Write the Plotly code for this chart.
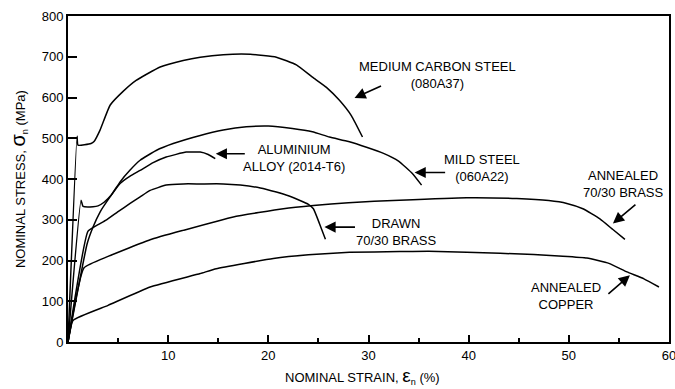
import plotly.graph_objects as go

# ---- data (strain %, stress MPa) ----
medium_x = [0, 0.9, 1.0, 2.3, 2.6, 3.2, 4.2, 5.5, 6.8, 9.2, 11.5, 13.2, 15.5, 18.2, 20.8, 22.8, 24.4, 25.8, 27.1, 28.3, 29.4]
medium_y = [0, 505, 483, 487, 492, 520, 581, 615, 642, 675, 691, 699, 705, 706, 699, 680, 650, 625, 593, 555, 503]

mild_x = [0, 1.3, 1.5, 2.5, 3.0, 3.6, 4.3, 5.2, 6.2, 7.2, 8.8, 10.5, 13.2, 15.5, 17.8, 20.0, 22.4, 24.4, 26.1, 28.0, 29.8, 31.5, 33.0, 34.4, 35.3]
mild_y = [0, 348, 333, 332, 334, 343, 360, 393, 422, 446, 470, 487, 507, 520, 528, 530, 524, 516, 503, 492, 478, 463, 444, 413, 385]

alu_x = [0, 1.9, 2.5, 3.2, 4.2, 5.2, 6.2, 7.2, 8.5, 9.8, 11.8, 13.2, 14.0, 14.7]
alu_y = [0, 240, 282, 319, 356, 389, 407, 421, 440, 454, 466, 466, 460, 450]

drawn_x = [0, 2.0, 3.0, 3.8, 5.0, 6.2, 7.2, 8.2, 9.8, 11.5, 13.2, 15.5, 17.2, 19.2, 20.8, 22.0, 23.1, 24.0, 24.5, 25.1, 25.7]
drawn_y = [0, 272, 288, 299, 320, 340, 356, 372, 385, 388, 388, 388, 385, 378, 368, 359, 348, 338, 327, 291, 252]

brass_x = [0, 1.6, 4.0, 8.2, 11.5, 16.5, 21.5, 24.5, 28.0, 33.1, 39.8, 44.8, 48.0, 49.8, 51.4, 53.1, 54.4, 55.6]
brass_y = [0, 182, 210, 251, 274, 307, 327, 335, 342, 348, 354, 352, 347, 340, 327, 302, 276, 252]

copper_x = [0, 0.5, 4.0, 8.2, 13.2, 14.8, 20.5, 24.0, 28.1, 33.1, 36.0, 39.8, 46.5, 49.0, 51.8, 54.0, 55.8, 57.5, 59.0]
copper_y = [0, 53, 90, 135, 168, 180, 205, 214, 220, 222, 223, 220, 215, 211, 206, 193, 172, 155, 135]

series = [
    ("Medium carbon steel (080A37)", medium_x, medium_y),
    ("Mild steel (060A22)", mild_x, mild_y),
    ("Aluminium alloy (2014-T6)", alu_x, alu_y),
    ("Drawn 70/30 brass", drawn_x, drawn_y),
    ("Annealed 70/30 brass", brass_x, brass_y),
    ("Annealed copper", copper_x, copper_y),
]

x_ticks = [10, 20, 30, 40, 50, 60]
y_ticks = [0, 100, 200, 300, 400, 500, 600, 700, 800]

# labels: (text, x, y)
labels = [
    ("MEDIUM CARBON STEEL<br>(080A37)", 36.9, 655),
    ("ALUMINIUM<br>ALLOY (2014-T6)", 22.55, 452),
    ("MILD STEEL<br>(060A22)", 41.3, 428),
    ("ANNEALED<br>70/30 BRASS", 55.5, 387),
    ("DRAWN<br>70/30 BRASS", 32.8, 270),
    ("ANNEALED<br>COPPER", 49.7, 114),
]
# arrows: (tail x, tail y, head x, head y)
arrows = [
    (31.4, 630, 28.6, 599),
    (17.8, 462, 14.75, 462),
    (37.8, 416, 34.6, 416),
    (56.8, 340, 54.4, 291),
    (28.8, 282, 25.6, 282),
    (53.8, 115, 56.1, 164),
]

FONT = "Liberation Sans, Arial, sans-serif"

fig = go.Figure()
for name, xs, ys in series:
    fig.add_trace(go.Scatter(x=xs, y=ys, mode="lines", name=name,
                             line=dict(color="black", width=1.5, shape="spline", smoothing=0.4),
                             showlegend=False))

annotations = []
for text, x, y in labels:
    annotations.append(dict(x=x, y=y, xref="x", yref="y", text=text, showarrow=False,
                            font=dict(family=FONT, size=13, color="black"), align="center"))
for tx, ty, hx, hy in arrows:
    annotations.append(dict(x=hx, y=hy, ax=tx, ay=ty, xref="x", yref="y", axref="x", ayref="y",
                            text="", showarrow=True, arrowhead=2, arrowsize=1.4, arrowwidth=1.6,
                            arrowcolor="black", standoff=0, startstandoff=0))
annotations.append(dict(x=-0.083, y=0.5, xref="paper", yref="paper", textangle=-90,
                        text="NOMINAL STRESS, <span style='font-size:20px'>σ</span><sub>n</sub> (MPa)",
                        showarrow=False, font=dict(family=FONT, size=13, color="black"),
                        xanchor="center", yanchor="middle"))
annotations.append(dict(x=0.49, y=-0.105, xref="paper", yref="paper",
                        text="NOMINAL STRAIN, <span style='font-size:19px'>ε</span><sub>n</sub> (%)",
                        showarrow=False, font=dict(family=FONT, size=13, color="black"),
                        xanchor="center", yanchor="middle"))

fig.update_layout(
    width=675, height=389,
    margin=dict(l=68, r=6, t=16, b=47, autoexpand=False),
    plot_bgcolor="white", paper_bgcolor="white",
    font=dict(family=FONT, size=13, color="black"),
    annotations=annotations,
    xaxis=dict(range=[0, 60], tickvals=x_ticks, ticktext=[str(v) for v in x_ticks],
               ticks="inside", ticklen=7, tickwidth=1.5, tickcolor="black",
               showline=True, linecolor="black", linewidth=1.8, mirror=True,
               showgrid=False, zeroline=False, automargin=False, ticklabeloverflow="allow",
               minor=dict(ticks="inside", ticklen=4, tickwidth=1.5, tickcolor="black", dtick=5, tick0=0, showgrid=False),
               tickfont=dict(family=FONT, size=13, color="black")),
    yaxis=dict(range=[0, 800], tickvals=y_ticks, ticktext=[str(v) for v in y_ticks],
               ticks="inside", ticklen=9, tickwidth=1.5, tickcolor="black",
               showline=True, linecolor="black", linewidth=1.8, mirror=True,
               showgrid=False, zeroline=False, automargin=False, ticklabeloverflow="allow",
               tickfont=dict(family=FONT, size=13, color="black")),
)

# remove the default 8px page margin so the figure fills the window exactly
fig.write_html("out.html", config={"displayModeBar": False},
               post_script="document.body.style.margin='0';document.body.style.overflow='hidden';")
